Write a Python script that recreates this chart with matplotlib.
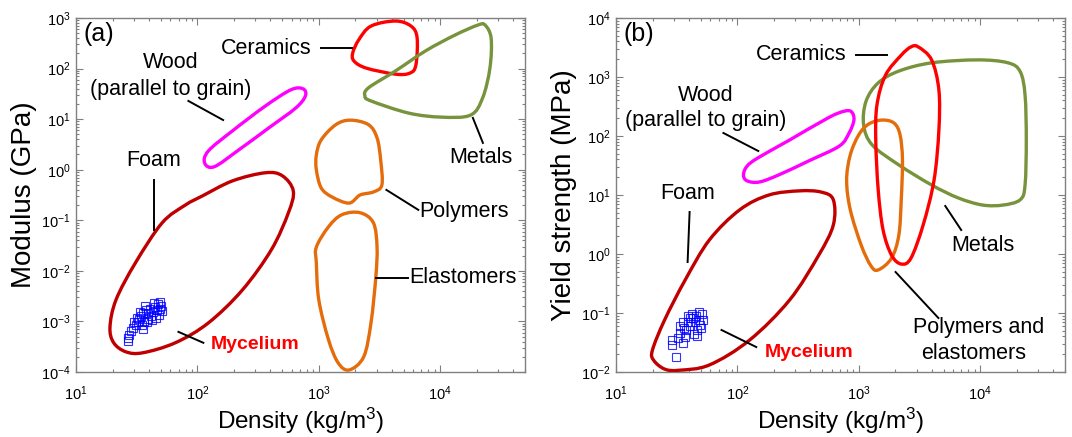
import numpy as np
import matplotlib
matplotlib.use("Agg")
import matplotlib.pyplot as plt
from matplotlib.path import Path
from matplotlib.patches import PathPatch
from matplotlib.ticker import LogLocator

plt.rcParams['font.family'] = ['Liberation Sans', 'DejaVu Sans']
plt.rcParams['mathtext.fontset'] = 'custom'
plt.rcParams['mathtext.rm'] = 'Liberation Sans'
plt.rcParams['mathtext.it'] = 'Liberation Sans:italic'
plt.rcParams['mathtext.default'] = 'regular'

# ---------------- data (outline vertices given as log10 exponents) ----------------
# Panel (a): density (kg/m3) vs modulus (GPa)
foam_a_lx = [2.56, 2.70, 2.79, 2.75, 2.61, 2.37, 2.09, 1.82, 1.55, 1.41, 1.31, 1.28, 1.33, 1.49, 1.71, 1.90, 2.04, 2.29]
foam_a_ly = [-0.06, -0.12, -0.42, -0.85, -1.58, -2.38, -3.03, -3.42, -3.62, -3.60, -3.42, -3.11, -2.57, -1.84, -1.05, -0.70, -0.52, -0.22]
wood_a_lx = [2.06, 2.09, 2.29, 2.56, 2.77, 2.87, 2.89, 2.81, 2.59, 2.34, 2.14]
wood_a_ly = [0.13, 0.37, 0.77, 1.26, 1.58, 1.60, 1.46, 1.22, 0.83, 0.39, 0.06]
ceramics_a_lx = [3.43, 3.63, 3.76, 3.81, 3.80, 3.75, 3.63, 3.39, 3.29, 3.28, 3.33]
ceramics_a_ly = [2.84, 2.94, 2.84, 2.61, 2.07, 1.91, 1.89, 2.01, 2.15, 2.31, 2.57]
metals_a_lx = [4.37, 4.42, 4.41, 4.35, 4.25, 4.01, 3.74, 3.43, 3.38, 3.41, 3.63, 3.88, 4.12, 4.31]
metals_a_ly = [2.86, 2.60, 2.01, 1.42, 1.08, 1.04, 1.12, 1.36, 1.46, 1.62, 1.95, 2.35, 2.66, 2.86]
polymers_a_lx = [3.26, 3.41, 3.48, 3.51, 3.52, 3.45, 3.34, 3.25, 3.11, 3.02, 2.98, 2.98, 3.02, 3.14]
polymers_a_ly = [0.98, 0.89, 0.63, 0.19, -0.30, -0.44, -0.50, -0.66, -0.54, -0.36, 0.00, 0.29, 0.59, 0.89]
elast_a_lx = [3.34, 3.45, 3.48, 3.47, 3.43, 3.37, 3.25, 3.16, 3.08, 3.00, 2.98, 2.98, 3.08, 3.19]
elast_a_ly = [-0.85, -1.05, -1.53, -2.12, -3.03, -3.70, -3.96, -3.82, -3.36, -2.57, -1.84, -1.53, -1.13, -0.89]

myc_a_density = [26.7, 26.7, 27.2, 28.2, 29.3, 31.0, 32.2, 32.8, 34.1, 35.4, 37.5, 38.9, 40.4, 41.2, 42.8,
                 44.4, 46.1, 47.0, 48.8, 49.7, 50.7, 47.9, 45.3, 42.0, 38.9, 36.1, 34.8, 35.4, 38.2, 31.6,
                 33.5, 36.8, 43.6, 48.8, 29.9]
myc_a_modulus = [4.14e-4, 4.74e-4, 5.43e-4, 6.52e-4, 7.48e-4, 8.57e-4, 9.82e-4, 1.13e-3, 1.29e-3, 1.48e-3,
                 1.69e-3, 1.48e-3, 1.77e-3, 1.29e-3, 1.55e-3, 1.94e-3, 1.69e-3, 2.23e-3, 2.44e-3, 2.03e-3,
                 1.62e-3, 1.35e-3, 1.18e-3, 1.08e-3, 1.13e-3, 9.82e-4, 8.57e-4, 7.14e-4, 9.82e-4, 1.18e-3,
                 1.55e-3, 2.03e-3, 2.33e-3, 1.77e-3, 9.82e-4]

# Panel (b): density (kg/m3) vs yield strength (MPa)
foam_b_lx = [2.51, 2.69, 2.79, 2.79, 2.67, 2.43, 2.10, 1.77, 1.52, 1.40, 1.31, 1.30, 1.40, 1.57, 1.77, 2.02, 2.26]
foam_b_ly = [1.07, 1.05, 0.92, 0.49, -0.02, -0.78, -1.46, -1.88, -1.97, -1.95, -1.80, -1.63, -1.12, -0.44, 0.24, 0.75, 1.00]
wood_b_lx = [2.05, 2.08, 2.17, 2.42, 2.75, 2.88, 2.94, 2.96, 2.92, 2.84, 2.59, 2.34, 2.18, 2.08]
wood_b_ly = [1.34, 1.49, 1.63, 1.92, 2.31, 2.42, 2.41, 2.27, 2.05, 1.83, 1.58, 1.34, 1.22, 1.24]
ceramics_b_lx = [3.49, 3.60, 3.66, 3.66, 3.62, 3.53, 3.43, 3.35, 3.27, 3.20, 3.16, 3.14, 3.15, 3.22, 3.35, 3.43]
ceramics_b_ly = [3.51, 3.29, 2.78, 2.10, 1.25, 0.49, -0.07, -0.17, -0.02, 0.41, 1.09, 1.93, 2.53, 3.03, 3.37, 3.51]
metals_b_lx = [3.98, 4.23, 4.33, 4.37, 4.38, 4.37, 4.33, 4.19, 4.02, 3.82, 3.60, 3.33, 3.11, 3.04, 3.06, 3.16, 3.33, 3.60]
metals_b_ly = [3.29, 3.24, 3.09, 2.69, 1.93, 1.17, 0.92, 0.83, 0.83, 0.95, 1.17, 1.51, 1.85, 2.19, 2.59, 2.90, 3.10, 3.24]
polyel_b_lx = [3.19, 3.29, 3.34, 3.36, 3.35, 3.33, 3.27, 3.16, 3.10, 3.02, 2.93, 2.90, 2.93, 3.00, 3.08]
polyel_b_ly = [2.27, 2.22, 2.02, 1.59, 0.92, 0.32, -0.07, -0.27, -0.20, 0.15, 0.75, 1.25, 1.68, 2.02, 2.20]

myc_b_density = [31.0, 28.8, 28.8, 32.2, 35.4, 33.5, 36.1, 38.9, 40.4, 42.0, 45.3, 47.9, 50.7, 51.6, 48.8,
                 46.1, 43.6, 37.5, 35.4, 38.9, 44.4, 49.7, 40.4, 46.1, 33.5, 42.8, 47.9, 36.8]
myc_b_strength = [0.0179, 0.0287, 0.0349, 0.0377, 0.031, 0.0458, 0.0557, 0.0703, 0.0822, 0.0962, 0.0889,
                  0.104, 0.0962, 0.076, 0.0627, 0.0515, 0.044, 0.0515, 0.0703, 0.0889, 0.0703, 0.0557,
                  0.0603, 0.0407, 0.0603, 0.0822, 0.076, 0.0392]

C_FOAM = '#C00000'
C_WOOD = '#FF00FF'
C_CER = '#FF0000'
C_MET = '#77933C'
C_POLY = '#E46C0A'
C_MYC = '#0000FF'
C_SPINE = '#808080'


def smooth_closed(ax, lx, ly, color, lw=2.4):
    P = np.column_stack([lx, ly])
    n = len(P)
    verts = [P[0]]
    codes = [Path.MOVETO]
    for i in range(n):
        p0, p1, p2, p3 = P[i - 1], P[i], P[(i + 1) % n], P[(i + 2) % n]
        c1 = p1 + (p2 - p0) / 6.0
        c2 = p2 - (p3 - p1) / 6.0
        verts += [c1, c2, p2]
        codes += [Path.CURVE4] * 3
    verts = 10.0 ** np.array(verts)
    patch = PathPatch(Path(verts, codes), facecolor='none', edgecolor=color, lw=lw,
                      transform=ax.transData, zorder=3)
    ax.add_patch(patch)


def style_axes(ax, ylim):
    ax.set_xscale('log')
    ax.set_yscale('log')
    ax.set_xlim(10, 5e4)
    ax.set_ylim(*ylim)
    ax.xaxis.set_major_locator(LogLocator(base=10, numticks=20))
    ax.yaxis.set_major_locator(LogLocator(base=10, numticks=20))
    ax.xaxis.set_minor_locator(LogLocator(base=10, subs=np.arange(2, 10), numticks=20))
    ax.yaxis.set_minor_locator(LogLocator(base=10, subs=np.arange(2, 10), numticks=20))
    ax.tick_params(which='both', direction='in', top=True, right=True, color=C_SPINE,
                   labelsize=10.5, width=0.8)
    ax.tick_params(which='major', length=5)
    ax.tick_params(which='minor', length=2.5)
    ax.tick_params(axis='x', pad=9)
    ax.tick_params(axis='y', pad=4)
    for s in ax.spines.values():
        s.set_color(C_SPINE)
        s.set_linewidth(1.0)


def leader(ax, x0, y0, x1, y1):
    ax.plot([x0, x1], [y0, y1], color='black', lw=1.4, zorder=4)


fig = plt.figure(figsize=(10.72, 4.37), dpi=100)
axa = fig.add_axes([76 / 1072, 1 - 372 / 437, 449 / 1072, 354 / 437])
axb = fig.add_axes([616 / 1072, 1 - 372 / 437, 449 / 1072, 354 / 437])

FS = 15.5
FS_MYC = 14
FS_PANEL = 18
FS_XLAB = 17.5
FS_YLAB = 20

# ---------------- panel (a) ----------------
style_axes(axa, (1e-4, 1e3))
smooth_closed(axa, foam_a_lx, foam_a_ly, C_FOAM)
smooth_closed(axa, wood_a_lx, wood_a_ly, C_WOOD)
smooth_closed(axa, ceramics_a_lx, ceramics_a_ly, C_CER)
smooth_closed(axa, metals_a_lx, metals_a_ly, C_MET)
smooth_closed(axa, polymers_a_lx, polymers_a_ly, C_POLY)
smooth_closed(axa, elast_a_lx, elast_a_ly, C_POLY)
axa.plot(myc_a_density, myc_a_modulus, ls='none', marker='s', ms=5.5, mfc='none',
         mec=C_MYC, mew=0.8, alpha=0.8, zorder=5)

axa.text(0.016, 0.99, '(a)', transform=axa.transAxes, ha='left', va='top', fontsize=FS_PANEL)
axa.text(60, 129, 'Wood', ha='center', va='center', fontsize=FS)
axa.text(60, 37.8, '(parallel to grain)', ha='center', va='center', fontsize=FS)
leader(axa, 84.3, 22.9, 163, 9.6)
axa.text(368, 255, 'Ceramics', ha='center', va='center', fontsize=FS)
leader(axa, 1038, 255, 1862, 255)
axa.text(21700, 1.71, 'Metals', ha='center', va='center', fontsize=FS)
leader(axa, 18600, 10.6, 22500, 3.39)
axa.text(43.6, 1.49, 'Foam', ha='center', va='center', fontsize=FS)
leader(axa, 43.6, 0.628, 43.6, 0.0646)
axa.text(15700, 0.1466, 'Polymers', ha='center', va='center', fontsize=FS)
leader(axa, 3606, 0.399, 6607, 0.1607)
axa.text(15460, 0.00728, 'Elastomers', ha='center', va='center', fontsize=FS)
leader(axa, 2985, 0.00728, 5470, 0.00728)
axa.text(298, 3.45e-4, 'Mycelium', ha='center', va='center', fontsize=FS_MYC,
         color='#FF0000', fontweight='bold')
leader(axa, 69.8, 6.22e-4, 112, 3.78e-4)

axa.set_xlabel('Density (kg/m$^3$)', fontsize=FS_XLAB, labelpad=2)
axa.set_ylabel('Modulus (GPa)', fontsize=FS_YLAB, labelpad=3)

# ---------------- panel (b) ----------------
style_axes(axb, (1e-2, 1e4))
smooth_closed(axb, foam_b_lx, foam_b_ly, C_FOAM)
smooth_closed(axb, wood_b_lx, wood_b_ly, C_WOOD)
smooth_closed(axb, metals_b_lx, metals_b_ly, C_MET)
smooth_closed(axb, polyel_b_lx, polyel_b_ly, C_POLY)
smooth_closed(axb, ceramics_b_lx, ceramics_b_ly, C_CER)
axb.plot(myc_b_density, myc_b_strength, ls='none', marker='s', ms=5.5, mfc='none',
         mec=C_MYC, mew=0.8, alpha=0.8, zorder=5)

axb.text(0.016, 0.99, '(b)', transform=axb.transAxes, ha='left', va='top', fontsize=FS_PANEL)
axb.text(54.7, 495, 'Wood', ha='center', va='center', fontsize=FS)
axb.text(54.7, 179.6, '(parallel to grain)', ha='center', va='center', fontsize=FS)
leader(axb, 76.7, 112.5, 148.6, 55.7)
axb.text(335, 2360, 'Ceramics', ha='center', va='center', fontsize=FS)
leader(axb, 944, 2360, 1698, 2360)
axb.text(38.9, 10.8, 'Foam', ha='center', va='center', fontsize=FS)
leader(axb, 40.4, 5.15, 38.9, 0.731)
axb.text(10590, 1.42, 'Metals', ha='center', va='center', fontsize=FS)
leader(axb, 5160, 6.51, 6980, 2.55)
axb.text(9640, 0.0557, 'Polymers and', ha='center', va='center', fontsize=FS)
axb.text(8770, 0.0202, 'elastomers', ha='center', va='center', fontsize=FS)
leader(axb, 2010, 0.495, 4530, 0.0822)
axb.text(389, 0.0218, 'Mycelium', ha='center', va='center', fontsize=FS_MYC,
         color='#FF0000', fontweight='bold')
leader(axb, 74, 0.0515, 143, 0.0265)

axb.set_xlabel('Density (kg/m$^3$)', fontsize=FS_XLAB, labelpad=2)
axb.set_ylabel('Yield strength (MPa)', fontsize=FS_YLAB, labelpad=3)

fig.savefig('out.png', dpi=100)
